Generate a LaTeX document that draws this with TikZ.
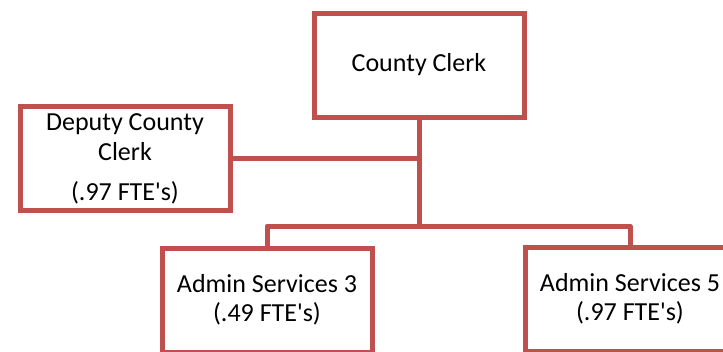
\documentclass[tikz,border=0pt]{standalone}
\usepackage{fontspec}
\setmainfont{Carlito}
\usepackage{xcolor}

\begin{document}
\begin{tikzpicture}[x=1pt,y=-1pt,
    box/.style={draw=clerkred,line width=5pt,fill=white,minimum width=210pt,
        minimum height=104pt,align=center,inner sep=0pt,
        font=\fontsize{26pt}{29pt}\selectfont},
    link/.style={draw=clerkred,line width=5pt,line join=round}]

    \definecolor{clerkred}{RGB}{192,80,77}

    \useasboundingbox (0,0) rectangle (723,351);
    \clip (0,0) rectangle (723,351);

    \node[box] (clerk) at (419,65) {County Clerk};
    \node[box] (deputy) at (125,158.5) {Deputy County\\[1pt]Clerk\\[11pt](.97 FTE\textquotesingle s)};
    \node[box] (adminthree) at (267,300) {Admin Services 3\\(.49 FTE\textquotesingle s)};
    \node[box] (adminfive) at (630,299) {Admin Services 5\\(.97 FTE\textquotesingle s)};

    \coordinate (bar) at (clerk.south |- 0,226);

    \draw[link] (clerk.south) -- (bar);
    \draw[link] (deputy.east) -- (deputy.east -| clerk.south);
    \draw[link] (adminthree.north) |- (bar) -| (adminfive.north);

\end{tikzpicture}
\end{document}
